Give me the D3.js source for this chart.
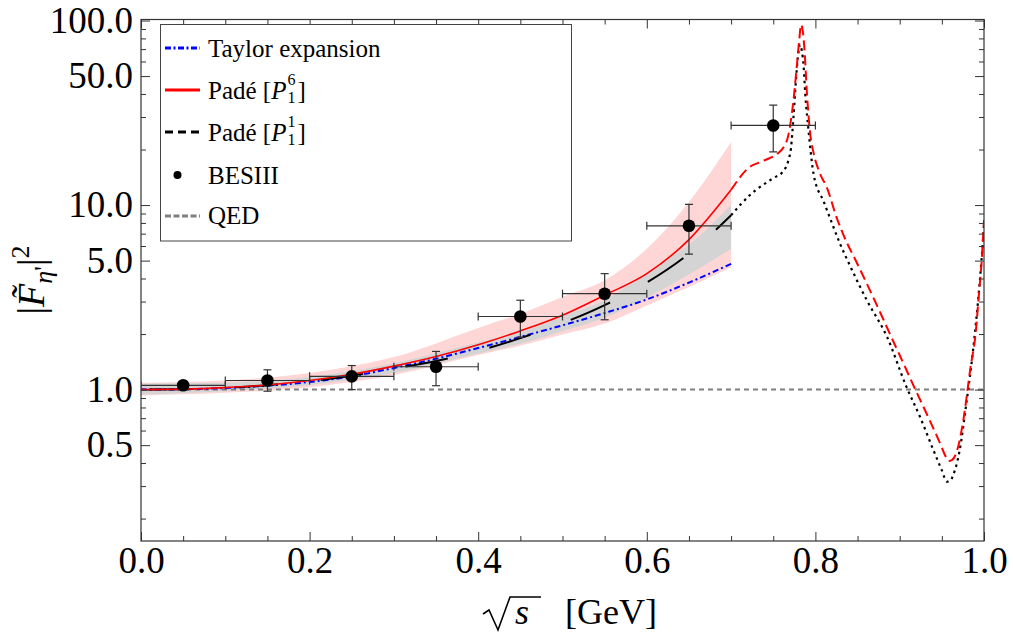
<!DOCTYPE html>
<html><head><meta charset="utf-8">
<script src="https://cdn.jsdelivr.net/npm/d3@7"></script>
<style>
body{margin:0;background:#fff}
svg{display:block}
text{font-family:"Liberation Serif","Times New Roman",serif;fill:#000}
</style>
</head><body>
<svg id="c" width="1013" height="634"></svg>
<script>
// ---------- data ----------
const sGrid   = [0,0.05,0.1,0.15,0.2,0.25,0.3,0.35,0.4,0.45,0.5,0.55,0.6,0.65,0.7];
const taylor  = [1.0,1.004,1.02,1.05,1.10,1.18,1.31,1.47,1.68,1.93,2.23,2.60,3.08,3.80,4.80];
const padeP61 = [1.0,1.005,1.025,1.06,1.12,1.21,1.34,1.51,1.75,2.08,2.53,3.25,4.25,6.5,12.1];
const padeP11 = [1.0,1.005,1.024,1.057,1.11,1.19,1.30,1.43,1.62,1.90,2.29,2.87,3.8,5.45,8.8];

const bandS     = [0,0.1,0.2,0.3,0.4,0.45,0.5,0.55,0.6,0.65,0.7];
const bandP61Lo = [0.93,0.96,1.03,1.20,1.54,1.73,1.99,2.28,2.86,3.6,4.6];
const bandP61Hi = [1.09,1.12,1.23,1.50,2.16,2.58,3.18,3.91,5.8,10.4,22];
const bandP11Lo = [0.94,0.98,1.06,1.23,1.57,1.77,2.07,2.45,3.15,4.2,5.8];
const bandP11Hi = [1.08,1.09,1.17,1.39,1.80,2.05,2.50,3.05,4.3,6.1,10.0];

const extS_P61 = [0.70,0.72,0.74,0.755,0.762,0.768,0.774,0.778,0.781,0.783,0.785,0.787,0.790,0.794,0.798,0.805,0.814,0.825,0.837,0.847,0.861,0.877,0.893,0.905,0.916,0.932,0.948,0.955,0.958,0.962,0.968,0.976,0.984,0.990,0.994,0.997,1.0];
const extV_P61 = [12.1,15.8,17.5,19.0,20.5,24,37,57,80,95,88,70,40,24,19,15,12.3,8.6,6.3,5.1,3.75,2.61,1.80,1.37,1.06,0.74,0.51,0.43,0.41,0.415,0.466,0.707,1.32,2.0,3.3,4.8,8.3];
const extS_P11 = [0.70,0.722,0.75,0.761,0.768,0.771,0.774,0.777,0.779,0.782,0.784,0.786,0.788,0.792,0.798,0.81,0.82,0.829,0.841,0.861,0.885,0.908,0.924,0.94,0.95,0.956,0.96,0.963,0.971,0.979,0.987,0.993,0.997,1.0];
const extV_P11 = [8.8,11.3,14.0,15.1,17.5,20.3,30,48,62,74,68,57,40,25,14.6,10.4,7.9,6.2,4.7,3.05,1.93,1.035,0.713,0.47,0.365,0.317,0.32,0.34,0.466,0.836,1.63,3.04,5.0,7.8];

const besX  = [0.05,0.15,0.25,0.35,0.45,0.55,0.65,0.75];
const besY  = [1.055,1.12,1.18,1.33,2.49,3.31,7.72,27.0];
const besLo = [1.02,0.98,1.0,1.05,1.92,2.39,5.42,19.4];
const besHi = [1.09,1.28,1.35,1.61,3.05,4.25,10.09,34.8];
const besDx = 0.05;

const xMajor = [0,0.2,0.4,0.6,0.8,1.0];
const xMinor = [0.05,0.1,0.15,0.25,0.3,0.35,0.45,0.5,0.55,0.65,0.7,0.75,0.85,0.9,0.95];
const yMajor = [0.5,1,5,10,50,100];
const yMinor = [0.2,0.3,0.4,0.6,0.7,0.8,0.9,2,3,4,6,7,8,9,20,30,40,60,70,80,90];

// ---------- setup ----------
const svg = d3.select("#c");
const L=141, R=984, T=19.5, B=541;
const x = d3.scaleLinear().domain([0,1]).range([L,R]);
const y = d3.scaleLog().domain([0.1512,101.3]).range([B,T]);

svg.append("defs").append("clipPath").attr("id","clip")
  .append("rect").attr("x",L).attr("y",T).attr("width",R-L).attr("height",B-T);
const plot = svg.append("g").attr("clip-path","url(#clip)");

const zip = (xs,ys)=>xs.map((s,i)=>[s,ys[i]]);
const line = d3.line().x(d=>x(d[0])).y(d=>y(d[1])).curve(d3.curveMonotoneX);
const area = d3.area().x(d=>x(d[0])).y0(d=>y(d[1])).y1(d=>y(d[2])).curve(d3.curveMonotoneX);

// bands
plot.append("path").datum(bandS.map((s,i)=>[s,bandP61Lo[i],bandP61Hi[i]]))
  .attr("d",area).attr("fill","#ffd6d6");
plot.append("path").datum(bandS.map((s,i)=>[s,bandP11Lo[i],bandP11Hi[i]]))
  .attr("d",area).attr("fill","#d4d4d4");

// QED
plot.append("path").datum([[0,1],[1,1]]).attr("d",line)
  .attr("stroke","#7f7f7f").attr("stroke-width",2).attr("stroke-dasharray","5,4").attr("fill","none");

// curves
plot.append("path").datum(zip(sGrid,taylor)).attr("d",line)
  .attr("stroke","#0000ff").attr("stroke-width",2).attr("stroke-dasharray","6,3,2,3").attr("fill","none");
plot.append("path").datum(zip(sGrid,padeP11)).attr("d",line)
  .attr("stroke","#000").attr("stroke-width",2).attr("stroke-dasharray","43,43").attr("stroke-dashoffset",-8).attr("fill","none");
plot.append("path").datum(zip(extS_P11,extV_P11)).attr("d",line)
  .attr("stroke","#000").attr("stroke-width",2.2).attr("stroke-dasharray","2.5,4").attr("fill","none");
plot.append("path").datum(zip(sGrid,padeP61)).attr("d",line)
  .attr("stroke","#ff0000").attr("stroke-width",1.6).attr("fill","none");
plot.append("path").datum(zip(extS_P61,extV_P61)).attr("d",line)
  .attr("stroke","#ff0000").attr("stroke-width",2).attr("stroke-dasharray","10,5").attr("fill","none");

// error bars
const eb = plot.append("g").attr("stroke","#333").attr("stroke-width",1.2);
besX.forEach((s,i)=>{
  const cx=x(s), cy=y(besY[i]);
  eb.append("line").attr("x1",x(s-besDx)).attr("x2",x(s+besDx)).attr("y1",cy).attr("y2",cy);
  eb.append("line").attr("x1",x(s-besDx)).attr("x2",x(s-besDx)).attr("y1",cy-4).attr("y2",cy+4);
  eb.append("line").attr("x1",x(s+besDx)).attr("x2",x(s+besDx)).attr("y1",cy-4).attr("y2",cy+4);
  eb.append("line").attr("x1",cx).attr("x2",cx).attr("y1",y(besLo[i])).attr("y2",y(besHi[i]));
  eb.append("line").attr("x1",cx-4).attr("x2",cx+4).attr("y1",y(besLo[i])).attr("y2",y(besLo[i]));
  eb.append("line").attr("x1",cx-4).attr("x2",cx+4).attr("y1",y(besHi[i])).attr("y2",y(besHi[i]));
});
plot.append("g").selectAll("circle").data(besX).join("circle")
  .attr("cx",d=>x(d)).attr("cy",(d,i)=>y(besY[i])).attr("r",6.3).attr("fill","#000");

// ---------- axes ----------
const fmt = d3.format(".1f");
function styleAx(g){ g.select(".domain").remove(); g.selectAll(".tick line").attr("stroke","#333"); g.selectAll("text").attr("font-family","Liberation Serif").attr("font-size",37).attr("fill","#000"); }
svg.append("g").attr("transform",`translate(0,${B})`)
  .call(d3.axisBottom(x).tickValues(xMajor).tickSize(-9).tickPadding(5.5).tickFormat(fmt)).call(styleAx);
svg.append("g").attr("transform",`translate(0,${B})`)
  .call(d3.axisBottom(x).tickValues(xMinor).tickSize(-5).tickFormat("")).call(styleAx);
svg.append("g").attr("transform",`translate(0,${T})`)
  .call(d3.axisTop(x).tickValues(xMajor).tickSize(-9).tickFormat("")).call(styleAx);
svg.append("g").attr("transform",`translate(0,${T})`)
  .call(d3.axisTop(x).tickValues(xMinor).tickSize(-5).tickFormat("")).call(styleAx);
svg.append("g").attr("transform",`translate(${L},0)`)
  .call(d3.axisLeft(y).tickValues(yMajor).tickSize(-9).tickPadding(8).tickFormat(fmt)).call(styleAx);
svg.append("g").attr("transform",`translate(${L},0)`)
  .call(d3.axisLeft(y).tickValues(yMinor).tickSize(-5).tickFormat("")).call(styleAx);
svg.append("g").attr("transform",`translate(${R},0)`)
  .call(d3.axisRight(y).tickValues(yMajor).tickSize(-9).tickFormat("")).call(styleAx);
svg.append("g").attr("transform",`translate(${R},0)`)
  .call(d3.axisRight(y).tickValues(yMinor).tickSize(-5).tickFormat("")).call(styleAx);

svg.append("rect").attr("x",L).attr("y",T).attr("width",R-L).attr("height",B-T)
  .attr("fill","none").attr("stroke","#333").attr("stroke-width",1.2);

// axis titles
const yt = svg.append("text").attr("transform","translate(44,280) rotate(-90)")
  .attr("text-anchor","middle").attr("font-size",38);
yt.append("tspan").text("|");
yt.append("tspan").attr("font-style","italic").text("F\u0303");
yt.append("tspan").attr("font-style","italic").attr("font-size",26).attr("dy",8).text("\u03b7");
yt.append("tspan").attr("font-size",26).text("'");
yt.append("tspan").attr("dy",-8).text("|");
yt.append("tspan").attr("font-size",26).attr("dy",-15).text("2");

svg.append("path").attr("d","M483,614 L489,610 L498,630 L510,597 L541,597")
  .attr("fill","none").attr("stroke","#000").attr("stroke-width",1.6);
svg.append("text").attr("x",515).attr("y",624).attr("font-size",36).attr("font-style","italic").text("s");
svg.append("text").attr("x",565).attr("y",624).attr("font-size",36).text("[GeV]");

// ---------- legend ----------
const lg = svg.append("g");
lg.append("rect").attr("x",160.5).attr("y",24.5).attr("width",411).attr("height",216.5)
  .attr("fill","#fff").attr("stroke","#444").attr("stroke-width",1);
const lx0=165, lx1=200, tx=208;
lg.append("line").attr("x1",lx0).attr("x2",lx1).attr("y1",48).attr("y2",48)
  .attr("stroke","#0000ff").attr("stroke-width",3).attr("stroke-dasharray","6,2.5,2,2.5");
lg.append("text").attr("x",tx).attr("y",56.5).attr("font-size",25).text("Taylor expansion");
lg.append("line").attr("x1",lx0).attr("x2",lx1).attr("y1",90).attr("y2",90)
  .attr("stroke","#ff0000").attr("stroke-width",3);
lg.append("line").attr("x1",lx0).attr("x2",lx1).attr("y1",132).attr("y2",132)
  .attr("stroke","#000").attr("stroke-width",3).attr("stroke-dasharray","8,5");
lg.append("circle").attr("cx",177.5).attr("cy",175).attr("r",4).attr("fill","#000");
lg.append("text").attr("x",tx).attr("y",183.5).attr("font-size",25).text("BESIII");
lg.append("line").attr("x1",lx0).attr("x2",lx1).attr("y1",216).attr("y2",216)
  .attr("stroke","#7f7f7f").attr("stroke-width",3).attr("stroke-dasharray","6,2.5");
lg.append("text").attr("x",tx).attr("y",224).attr("font-size",25).text("QED");

function pade(yb, sup){
  const t = lg.append("text").attr("x",tx).attr("y",yb).attr("font-size",25);
  t.append("tspan").text("Padé [");
  t.append("tspan").attr("font-style","italic").text("P");
  const w = t.node().getComputedTextLength();
  const xs = tx + w + 1;
  lg.append("text").attr("x",xs).attr("y",yb-14).attr("font-size",16).text(sup);
  lg.append("text").attr("x",xs).attr("y",yb+4).attr("font-size",16).text("1");
  lg.append("text").attr("x",xs+10).attr("y",yb).attr("font-size",25).text("]");
}
pade(99,"6");
pade(141,"1");
</script>
</body></html>
